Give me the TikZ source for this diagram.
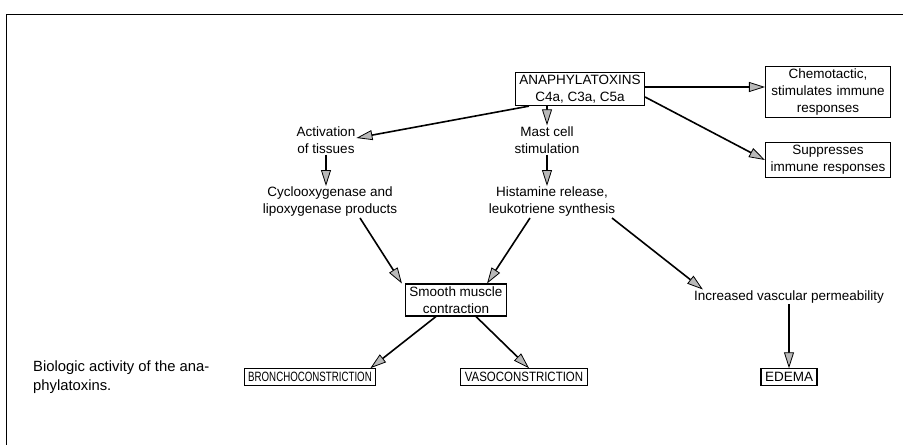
\documentclass[tikz,border=0pt]{standalone}
\usepackage{fontspec}
\setmainfont{Liberation Sans}
\usetikzlibrary{arrows.meta}
\begin{document}
\begin{tikzpicture}[x=1pt,y=-1pt,
  txt/.style={font=\fontsize{13.5}{17}\selectfont, align=center, inner sep=1pt},
  boxed/.style={txt, draw, line width=1.1pt, inner xsep=4pt, inner ysep=2.5pt},
  capsbox/.style={boxed, inner ysep=3.5pt},
  arr/.style={line width=1.6pt, -{Triangle[length=16pt,width=10pt,fill=gray!55,line width=0.8pt]}},
]
\useasboundingbox (0,0) rectangle (903,445);
\draw[line width=1pt] (903,14) -- (6,14) -- (6,445);

\node[boxed] (ana) at (580,89) {ANAPHYLATOXINS\\C4a, C3a, C5a};
\node[boxed, text width=117pt] (chem) at (828,92) {Chemotactic,\\stimulates immune\\responses};
\node[boxed, text width=117pt] (supp) at (828,160) {Suppresses\\immune responses};
\node[txt] (act) at (326,140) {Activation\\of tissues};
\node[txt] (mast) at (547,140) {Mast cell\\stimulation};
\node[txt] (cyc) at (330,202) {Cyclooxygenase and\\lipoxygenase products};
\node[txt] (hist) at (552,202) {Histamine release,\\leukotriene synthesis};
\node[boxed] (smooth) at (456,300) {Smooth muscle\\contraction};
\node[txt] (incr) at (789,297) {Increased vascular permeability};
\node[capsbox] (bron) at (310,377) {\scalebox{0.72}[1]{BRONCHOCONSTRICTION}};
\node[capsbox] (vaso) at (524,377) {\scalebox{0.85}[1]{VASOCONSTRICTION}};
\node[capsbox] (edema) at (789,377) {EDEMA};
\node[font=\fontsize{14.8}{19}\selectfont, align=left, anchor=north west, inner sep=0pt] (cap) at (33,361) {Biologic activity of the ana-\\phylatoxins.};

\draw[arr] ([xshift=14pt]ana.south west) -- ([yshift=2pt]act.east);
\draw[arr] (ana.south -| mast.north) -- (mast.north);
\draw[arr] ([yshift=2pt]ana.east) -- ([yshift=2pt]ana.east -| chem.west);
\draw[arr] ([yshift=-8pt]ana.east) -- (supp.west);
\draw[arr] (act.south) -- (act.south |- cyc.north);
\draw[arr] (mast.south) -- (mast.south |- hist.north);
\draw[arr] ([xshift=30pt]cyc.south) -- ([xshift=-3pt]smooth.north west);
\draw[arr] ([xshift=-22pt]hist.south) -- ([xshift=-20pt]smooth.north east);
\draw[arr] ([xshift=60pt]hist.south) -- ([xshift=10pt]incr.north west);
\draw[arr] ([xshift=-20pt]smooth.south) -- ([xshift=-6pt]bron.north east);
\draw[arr] ([xshift=20pt]smooth.south) -- ([xshift=5pt]vaso.north);
\draw[arr] (incr.south -| edema.north) -- (edema.north);
\end{tikzpicture}
\end{document}
